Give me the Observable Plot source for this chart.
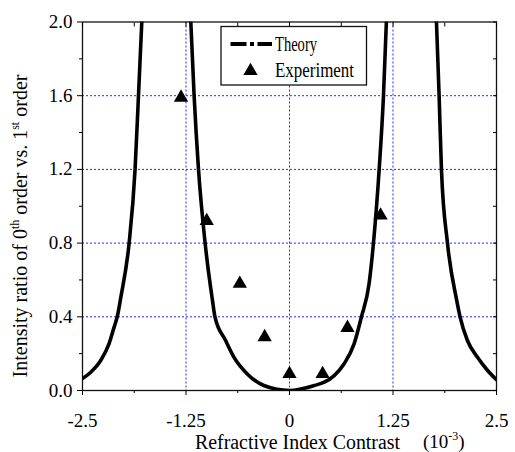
<!DOCTYPE html>
<html>
<head>
<meta charset="utf-8">
<script src="https://cdn.jsdelivr.net/npm/d3@7"></script>
<script src="https://cdn.jsdelivr.net/npm/@observablehq/plot@0.6"></script>
<style>
  html, body { margin: 0; padding: 0; background: #fff; }
  #chart { width: 515px; height: 452px; }
  #chart svg, #chart svg text { font-family: "Liberation Serif", "DejaVu Serif", "Times New Roman", Times, serif !important; }
</style>
</head>
<body>
<div id="chart"></div>
<script>
// ---- Axis ticks and labels ----
const xTicks = [-2.5, -1.25, 0, 1.25, 2.5];
const xTickLabels = ["-2.5", "-1.25", "0", "1.25", "2.5"];
const xMinor = [-1.875, -0.625, 0.625, 1.875];
const yTicks = [0, 0.4, 0.8, 1.2, 1.6, 2.0];
const yTickLabels = ["0.0", "0.4", "0.8", "1.2", "1.6", "2.0"];
const yMinor = [0.2, 0.6, 1.0, 1.4, 1.8];
const xGrid = [-1.25, 0, 1.25];
const yGrid = [0.4, 0.8, 1.2, 1.6];

// ---- Theory curve, three branches ----
const leftOuterX = [-2.5, -2.40, -2.28, -2.18, -2.118, -2.077, -2.037, -1.937, -1.865, -1.824, -1.784];
const leftOuterY = [0.065, 0.099, 0.163, 0.253, 0.344, 0.407, 0.506, 0.80, 1.20, 1.60, 2.00];
const centerX = [-1.192, -1.152, -1.099, -1.019, -0.93, -0.90, -0.77, -0.67, -0.51, -0.31, 0, 0.30, 0.42, 0.54, 0.66, 0.78, 0.869, 0.961, 1.014, 1.083, 1.135, 1.17];
const centerY = [2.00, 1.60, 1.20, 0.80, 0.488, 0.40, 0.27, 0.18, 0.09, 0.027, 0.0, 0.027, 0.045, 0.081, 0.145, 0.253, 0.40, 0.579, 0.80, 1.20, 1.60, 2.00];
const rightOuterX = [1.775, 1.807, 1.835, 1.908, 2.02, 2.06, 2.15, 2.27, 2.39, 2.5];
const rightOuterY = [2.00, 1.60, 1.20, 0.80, 0.488, 0.40, 0.27, 0.18, 0.11, 0.058];

// ---- Experiment ----
const expX = [-1.31, -1.00, -0.60, -0.30, 0.00, 0.40, 0.70, 1.10];
const expY = [1.59, 0.92, 0.58, 0.29, 0.09, 0.09, 0.34, 0.95];

const theory = [
  ...leftOuterX.map((x, i) => ({x, y: leftOuterY[i], b: "L"})),
  ...centerX.map((x, i) => ({x, y: centerY[i], b: "C"})),
  ...rightOuterX.map((x, i) => ({x, y: rightOuterY[i], b: "R"}))
];
const experiment = expX.map((x, i) => ({x, y: expY[i]}));

const FONT = "Liberation Serif, DejaVu Serif, Times New Roman, Times, serif";
const grid = {stroke: "#0000ff", strokeOpacity: 0.85, strokeDasharray: "2,2", strokeWidth: 1};

const svg = Plot.plot({
  width: 515,
  height: 452,
  marginLeft: 82,
  marginRight: 19,
  marginTop: 21.5,
  marginBottom: 62,
  style: {fontFamily: FONT, fontSize: "19px", color: "black", background: "white"},
  x: {domain: [-2.5, 2.5], label: null},
  y: {domain: [0, 2], label: null},
  marks: [
    Plot.ruleX(xGrid, grid),
    Plot.ruleY(yGrid, grid),
    Plot.line(theory, {x: "x", y: "y", z: "b", stroke: "black", strokeWidth: 3.6, curve: "monotone-x", clip: true}),
    Plot.dot(experiment, {x: "x", y: "y", symbol: "triangle", r: 5.3, fill: "black", stroke: null}),
    Plot.frame({stroke: "#111", strokeWidth: 1.3}),
    Plot.axisX({anchor: "bottom", ticks: xTicks, tickSize: 5, tickPadding: 18, tickFormat: (d, i) => xTickLabels[i], label: null}),
    Plot.axisX({anchor: "bottom", ticks: xMinor, tickSize: 3, text: null, label: null}),
    Plot.axisX({anchor: "top", ticks: xTicks.concat(xMinor), tickSize: -4, text: null, label: null}),
    Plot.axisY({anchor: "left", ticks: yTicks, tickSize: 5, tickPadding: 5, tickFormat: (d, i) => yTickLabels[i], label: null}),
    Plot.axisY({anchor: "left", ticks: yMinor, tickSize: 3, text: null, label: null}),
    Plot.axisY({anchor: "right", ticks: yTicks.concat(yMinor), tickSize: -4, text: null, label: null})
  ]
});
svg.setAttribute("font-family", FONT);
document.getElementById("chart").appendChild(svg);

// ---- Axis titles and legend (text with superscripts) ----
const s = d3.select(svg);
function txt(sel) {
  return sel.attr("font-family", FONT).style("font-family", FONT).attr("fill", "black");
}
const yl = txt(s.append("text"))
  .attr("transform", "translate(27,226) rotate(-90)")
  .attr("text-anchor", "middle")
  .style("font-size", "20px");
yl.append("tspan").text("Intensity ratio of 0");
yl.append("tspan").attr("dy", -8).style("font-size", "12px").text("th");
yl.append("tspan").attr("dy", 8).text(" order vs. 1");
yl.append("tspan").attr("dy", -8).style("font-size", "12px").text("st");
yl.append("tspan").attr("dy", 8).text(" order");

txt(s.append("text")).attr("x", 195).attr("y", 448.5)
  .attr("text-anchor", "start")
  .style("font-size", "20px")
  .attr("textLength", 205).attr("lengthAdjust", "spacingAndGlyphs")
  .text("Refractive Index Contrast");
const unit = txt(s.append("text")).attr("x", 423).attr("y", 447.5)
  .attr("text-anchor", "start")
  .style("font-size", "19px");
unit.append("tspan").text("(10");
unit.append("tspan").attr("dy", -8).style("font-size", "12px").text("-3");
unit.append("tspan").attr("dy", 8).text(")");

// legend
const lg = s.append("g");
lg.append("rect").attr("x", 221).attr("y", 26.5).attr("width", 145.5).attr("height", 58.5)
  .attr("fill", "white").attr("stroke", "#111").attr("stroke-width", 1.3);
lg.append("line").attr("x1", 230.5).attr("x2", 272).attr("y1", 44).attr("y2", 44)
  .attr("stroke", "black").attr("stroke-width", 4)
  .attr("stroke-dasharray", "16,3.5,4,3.5,16");
lg.append("path").attr("d", d3.symbol(d3.symbolTriangle, Math.PI * 5.3 * 5.3)())
  .attr("transform", "translate(250.5,71)").attr("fill", "black");
txt(lg.append("text")).attr("x", 275).attr("y", 51)
  .attr("text-anchor", "start")
  .style("font-size", "20px")
  .attr("textLength", 42).attr("lengthAdjust", "spacingAndGlyphs").text("Theory");
txt(lg.append("text")).attr("x", 275).attr("y", 77)
  .attr("text-anchor", "start")
  .style("font-size", "20px")
  .attr("textLength", 79).attr("lengthAdjust", "spacingAndGlyphs").text("Experiment");
</script>
</body>
</html>
